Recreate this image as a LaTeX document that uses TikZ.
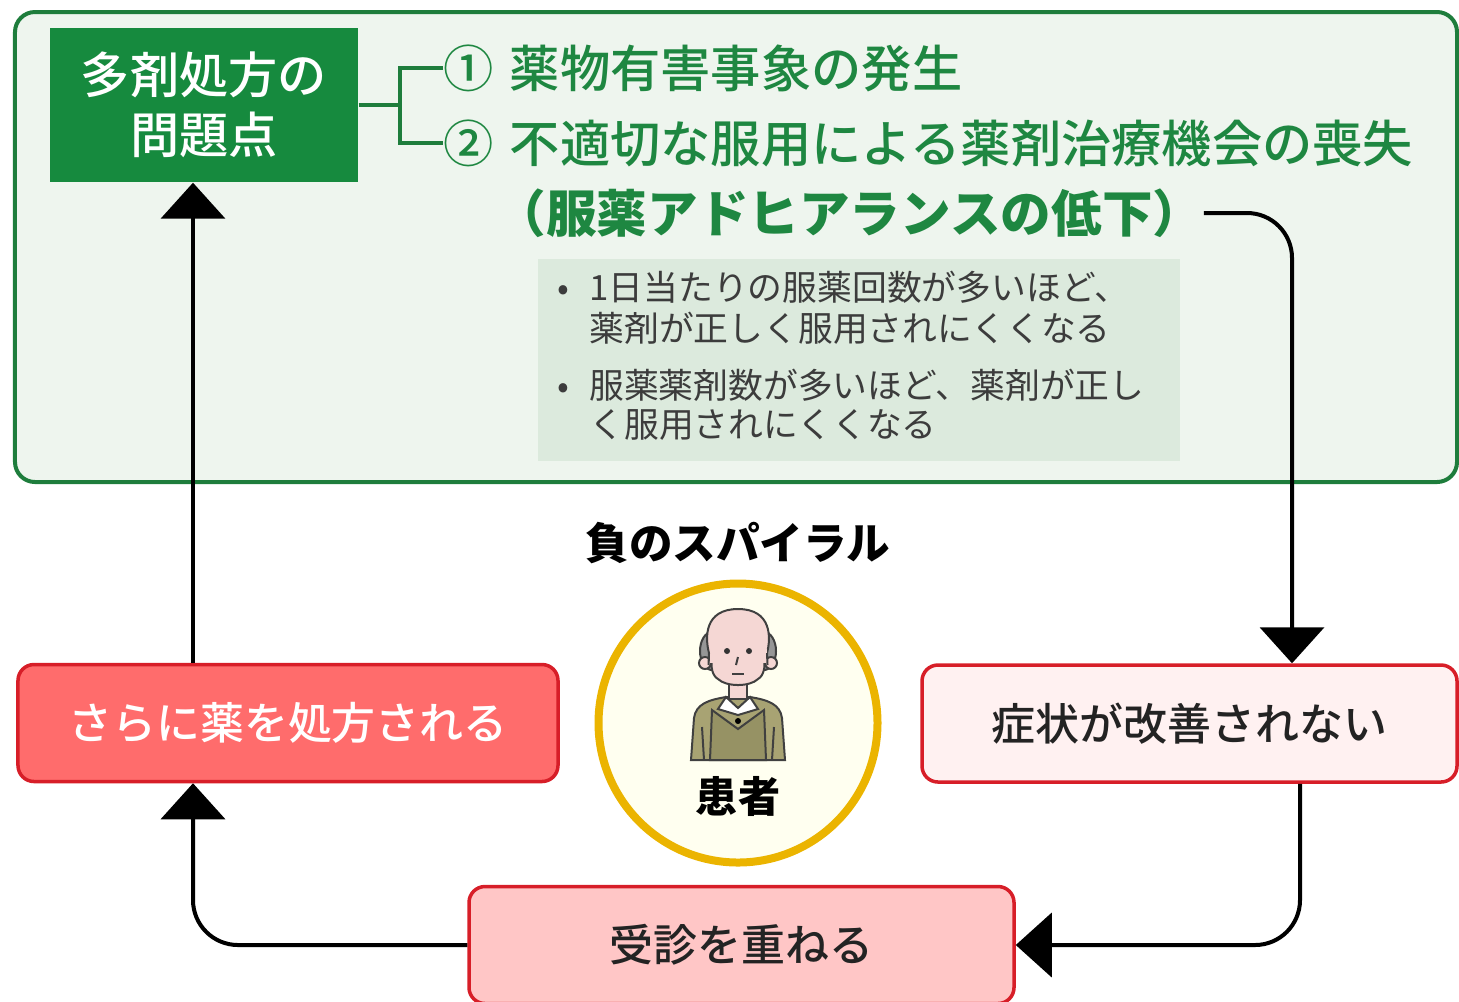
\documentclass[tikz,border=0pt]{standalone}
\usepackage{fontspec}
\setmainfont{Noto Sans CJK JP}
\newfontfamily\mediumjp{Noto Sans CJK JP Medium}
\usetikzlibrary{arrows.meta}

\definecolor{panelgreen}{RGB}{238,245,238}
\definecolor{boxgreen}{RGB}{30,125,60}
\definecolor{darkgreen}{RGB}{22,138,62}
\definecolor{textgreen}{RGB}{30,135,65}
\definecolor{notegreen}{RGB}{220,234,221}
\definecolor{notegray}{RGB}{60,60,60}
\definecolor{boxred}{RGB}{215,30,40}
\definecolor{presfill}{RGB}{255,108,108}
\definecolor{sympfill}{RGB}{255,241,241}
\definecolor{visitfill}{RGB}{255,198,198}
\definecolor{ringyellow}{RGB}{235,180,0}
\definecolor{ringfill}{RGB}{255,255,240}
\definecolor{skin}{RGB}{245,215,212}
\definecolor{hair}{RGB}{150,150,150}
\definecolor{sweater}{RGB}{168,163,115}
\definecolor{vest}{RGB}{150,146,100}
\definecolor{inkgray}{RGB}{35,35,35}

\begin{document}
\begin{tikzpicture}[x=1mm, y=-1mm,
    flow/.style={line width=0.4mm, rounded corners=4.5mm, -{Triangle[width=6.4mm,length=3.6mm]}},
    bracket/.style={draw=boxgreen, line width=0.35mm},
    issuetext/.style={anchor=west, inner sep=0pt, text=textgreen, font=\fontsize{14.3}{17}\selectfont\mediumjp},
    spiralbox/.style={draw=boxred, line width=0.35mm, rounded corners=1.6mm, minimum width=54mm, minimum height=11.7mm, font=\fontsize{12.5}{15}\selectfont\mediumjp},
    outline/.style={draw=black!75, line width=0.2mm}]
    \useasboundingbox (0,0) rectangle (145.9,100.1);

    % upper panel: problems of polypharmacy
    \node[draw=boxgreen, fill=panelgreen, line width=0.4mm, rounded corners=2mm, minimum width=144.2mm, minimum height=47mm] (panel) at (73.6,24.7) {};
    \node[fill=darkgreen, minimum width=30.8mm, minimum height=15.4mm, text=white, align=center, font=\fontsize{14}{17}\selectfont\mediumjp] (issue) at (20.4,10.5) {多剤処方の\\問題点};
    \node[issuetext] (harm) at (44.3,6.8) {①\hspace{1.6mm}薬物有害事象の発生};
    \node[issuetext] (loss) at (44.3,14.3) {②\hspace{1.6mm}不適切な服用による薬剤治療機会の喪失};
    \node[issuetext, font=\fontsize{14.4}{17}\selectfont\bfseries] (adh) at (49.5,21.3) {（服薬アドヒアランスの低下）};

    \coordinate (brx) at (40.0,0);
    \draw[bracket] (issue.east) -- (issue.east -| brx);
    \draw[bracket] (harm.west) -| (brx |- issue.east) |- (loss.west);

    \node[fill=notegreen, minimum width=64.2mm, minimum height=19.6mm, text=notegray, align=left, font=\fontsize{9.9}{10.9}\selectfont] (note) at (85.9,36.0) {%
        \raisebox{-0.6mm}{\begin{tabular}{@{}c@{\hspace{2mm}}l@{\hspace{1.6mm}}}
            • & 1日当たりの服薬回数が多いほど、\\
              & 薬剤が正しく服用されにくくなる\\[1.6mm]
            • & 服薬薬剤数が多いほど、薬剤が正し\\
              & く服用されにくくなる
        \end{tabular}}};

    % the spiral
    \node[font=\fontsize{12.4}{15}\selectfont\bfseries] (spiral) at (73.8,54.3) {負のスパイラル};
    \node[circle, draw=ringyellow, fill=ringfill, line width=0.8mm, minimum size=27.9mm] (patient) at (73.8,72.3) {};

    % elderly patient
    \begin{scope}[shift={(patient.center)}]
        \draw[outline, fill=sweater] (-4.7,3.7) -- (-4.4,-0.5) .. controls (-4.2,-1.9) and (-3.0,-2.3) .. (-1.2,-2.6)
            -- (1.2,-2.6) .. controls (3.0,-2.3) and (4.2,-1.9) .. (4.4,-0.5) -- (4.7,3.7) -- cycle;
        \draw[outline, fill=vest] (-2.8,3.7) -- (-2.6,-1.3) -- (0,0.6) -- (2.6,-1.3) -- (2.8,3.7) -- cycle;
        \draw[outline] (-3.6,0.4) -- (-3.4,3.7) (3.6,0.4) -- (3.4,3.7);
        \draw[outline, fill=skin] (-0.9,-4.2) rectangle (0.9,-2.4);
        \draw[outline, fill=white] (-1.2,-2.6) -- (-2.0,-1.4) -- (0,-0.8) -- (2.0,-1.4) -- (1.2,-2.6) -- (0,-1.5) -- cycle;
        \fill (0,-0.2) circle (0.3);
        \draw[outline, fill=hair] (-2.6,-7.2) ellipse (1.2 and 1.9);
        \draw[outline, fill=hair] (2.6,-7.2) ellipse (1.2 and 1.9);
        \draw[outline, fill=skin] (-3.3,-6.0) circle (0.6);
        \draw[outline, fill=skin] (3.3,-6.0) circle (0.6);
        \draw[outline, fill=skin] (0,-8.0) .. controls (-3.0,-8.2) and (-3.1,-5.0) .. (-2.0,-4.4)
            .. controls (-1.2,-3.6) and (1.2,-3.6) .. (2.0,-4.4) .. controls (3.1,-5.0) and (3.0,-8.2) .. (0,-8.0);
        \draw[outline, fill=skin] (0,-11.4) .. controls (-3.4,-11.4) and (-3.3,-8.5) .. (-2.9,-7.0)
            -- (2.9,-7.0) .. controls (3.3,-8.5) and (3.4,-11.4) .. (0,-11.4);
        \fill[skin] (-2.85,-7.4) rectangle (2.85,-6.0);
        \draw[outline] (-2.9,-7.0) -- (-2.95,-5.8) (2.9,-7.0) -- (2.95,-5.8);
        \fill[black!80] (-1.1,-7.2) circle (0.3) (1.1,-7.2) circle (0.3);
        \draw[outline] (0,-6.6) -- (-0.2,-5.8);
        \draw[outline] (-0.6,-4.9) -- (0.6,-4.9);
    \end{scope}
    \node[font=\fontsize{12}{14}\selectfont\bfseries] (pname) at (73.8,79.6) {患者};

    \node[spiralbox, fill=presfill, text=white] (presc) at (28.8,72.3) {さらに薬を処方される};
    \node[spiralbox, fill=sympfill, minimum width=53.5mm, text=inkgray] (symp) at (118.95,72.35) {症状が改善されない};
    \node[spiralbox, fill=visitfill, minimum width=54.5mm, text=inkgray] (visit) at (74.15,94.5) {受診を重ねる};

    % connectors
    \coordinate (downx) at (129.2,0);
    \coordinate (backx) at (130.0,0);
    \coordinate (upx) at (19.3,0);
    \draw[flow] (adh.east) -| (symp.north -| downx);
    \draw[flow] (symp.south -| backx) |- (visit.east);
    \draw[flow] (visit.west) -| (presc.south -| upx);
    \draw[flow] (presc.north -| upx) -- (issue.south -| upx);
\end{tikzpicture}
\end{document}
